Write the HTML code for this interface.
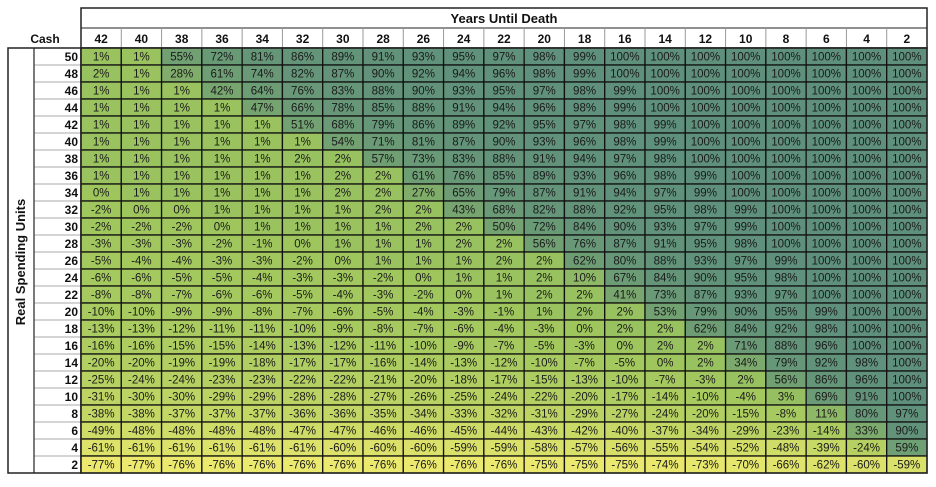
<!DOCTYPE html>
<html><head><meta charset="utf-8"><style>
body{margin:0;background:#fff;width:936px;height:482px;overflow:hidden;font-family:"Liberation Sans",sans-serif}
svg text{font-family:"Liberation Sans",sans-serif}
</style></head><body>
<svg id="chart" width="936" height="482" xmlns="http://www.w3.org/2000/svg"></svg>
<script>
const years=[42,40,38,36,34,32,30,28,26,24,22,20,18,16,14,12,10,8,6,4,2];
const cashUnits=[50,48,46,44,42,40,38,36,34,32,30,28,26,24,22,20,18,16,14,12,10,8,6,4,2];
const r50=[1,1,55,72,81,86,89,91,93,95,97,98,99,100,100,100,100,100,100,100,100];
const r48=[2,1,28,61,74,82,87,90,92,94,96,98,99,100,100,100,100,100,100,100,100];
const r46=[1,1,1,42,64,76,83,88,90,93,95,97,98,99,100,100,100,100,100,100,100];
const r44=[1,1,1,1,47,66,78,85,88,91,94,96,98,99,100,100,100,100,100,100,100];
const r42=[1,1,1,1,1,51,68,79,86,89,92,95,97,98,99,100,100,100,100,100,100];
const r40=[1,1,1,1,1,1,54,71,81,87,90,93,96,98,99,100,100,100,100,100,100];
const r38=[1,1,1,1,1,2,2,57,73,83,88,91,94,97,98,100,100,100,100,100,100];
const r36=[1,1,1,1,1,1,2,2,61,76,85,89,93,96,98,99,100,100,100,100,100];
const r34=[0,1,1,1,1,1,2,2,27,65,79,87,91,94,97,99,100,100,100,100,100];
const r32=[-2,0,0,1,1,1,1,2,2,43,68,82,88,92,95,98,99,100,100,100,100];
const r30=[-2,-2,-2,0,1,1,1,1,2,2,50,72,84,90,93,97,99,100,100,100,100];
const r28=[-3,-3,-3,-2,-1,0,1,1,1,2,2,56,76,87,91,95,98,100,100,100,100];
const r26=[-5,-4,-4,-3,-3,-2,0,1,1,1,2,2,62,80,88,93,97,99,100,100,100];
const r24=[-6,-6,-5,-5,-4,-3,-3,-2,0,1,1,2,10,67,84,90,95,98,100,100,100];
const r22=[-8,-8,-7,-6,-6,-5,-4,-3,-2,0,1,2,2,41,73,87,93,97,100,100,100];
const r20=[-10,-10,-9,-9,-8,-7,-6,-5,-4,-3,-1,1,2,2,53,79,90,95,99,100,100];
const r18=[-13,-13,-12,-11,-11,-10,-9,-8,-7,-6,-4,-3,0,2,2,62,84,92,98,100,100];
const r16=[-16,-16,-15,-15,-14,-13,-12,-11,-10,-9,-7,-5,-3,0,2,2,71,88,96,100,100];
const r14=[-20,-20,-19,-19,-18,-17,-17,-16,-14,-13,-12,-10,-7,-5,0,2,34,79,92,98,100];
const r12=[-25,-24,-24,-23,-23,-22,-22,-21,-20,-18,-17,-15,-13,-10,-7,-3,2,56,86,96,100];
const r10=[-31,-30,-30,-29,-29,-28,-28,-27,-26,-25,-24,-22,-20,-17,-14,-10,-4,3,69,91,100];
const r8=[-38,-38,-37,-37,-37,-36,-36,-35,-34,-33,-32,-31,-29,-27,-24,-20,-15,-8,11,80,97];
const r6=[-49,-48,-48,-48,-48,-47,-47,-46,-46,-45,-44,-43,-42,-40,-37,-34,-29,-23,-14,33,90];
const r4=[-61,-61,-61,-61,-61,-61,-60,-60,-60,-59,-59,-58,-57,-56,-55,-54,-52,-48,-39,-24,59];
const r2=[-77,-77,-76,-76,-76,-76,-76,-76,-76,-76,-76,-75,-75,-75,-74,-73,-70,-66,-62,-60,-59];
const values=[r50,r48,r46,r44,r42,r40,r38,r36,r34,r32,r30,r28,r26,r24,r22,r20,r18,r16,r14,r12,r10,r8,r6,r4,r2];

const NS="http://www.w3.org/2000/svg";
const svg=document.getElementById('chart');
const X0=81,X1=927,Y0=48,RH=17,CW=(X1-X0)/years.length;
const xPos=i=>X0+i*CW, yPos=j=>Y0+j*RH;
function mix(a,b,t){return a.map((v,i)=>Math.round(v+(b[i]-v)*t));}
const cMin=[236,233,110],cMid=[158,198,93],cMax=[94,144,124];
function color(v){let c;if(v<=0){c=mix(cMin,cMid,(v+77)/77);}else{c=mix(cMid,cMax,Math.pow(v/100,0.6));}return `rgb(${c[0]},${c[1]},${c[2]})`;}
function el(tag,attrs,txt){const e=document.createElementNS(NS,tag);for(const k in attrs)e.setAttribute(k,attrs[k]);if(txt!==undefined)e.textContent=txt;svg.appendChild(e);return e;}

let f=el('rect',{x:81,y:8,width:846,height:40,fill:'#fff',stroke:'#222','stroke-width':1.5});


let t=el('text',{x:504,y:23,'text-anchor':'middle','font-size':13,'font-weight':'bold',fill:'#111'},'Years Until Death');


el('line',{x1:81,y1:28,x2:927,y2:28,stroke:'#222','stroke-width':1});
t=el('text',{x:45,y:43,'text-anchor':'middle','font-size':12,'font-weight':'bold',fill:'#111'},'Cash');


f=el('rect',{x:8,y:48,width:73,height:425,fill:'#fff',stroke:'#222','stroke-width':1.5});


el('line',{x1:34,y1:48,x2:34,y2:473,stroke:'#222','stroke-width':1.2});
t=el('text',{x:0,y:0,'text-anchor':'middle','font-size':13,'font-weight':'bold',fill:'#111',transform:'translate(25,262) rotate(-90)'},'Real Spending Units');



years.forEach((yr,i)=>{
  if(i>0){el('line',{x1:xPos(i),y1:28,x2:xPos(i),y2:48,stroke:'#999','stroke-width':1});}
  const tx=el('text',{x:xPos(i)+CW/2,y:43,'text-anchor':'middle','font-size':12,'font-weight':'bold',fill:'#111'},String(yr));
  
  
});
cashUnits.forEach((c,j)=>{
  if(j>0){el('line',{x1:34,y1:yPos(j),x2:81,y2:yPos(j),stroke:'#555','stroke-width':0.6});}
  const tx=el('text',{x:78,y:yPos(j)+13,'text-anchor':'end','font-size':12,'font-weight':'bold',fill:'#111'},String(c));
  
  
});
values.forEach((row,j)=>{
  row.forEach((v,i)=>{
    const r=el('rect',{x:xPos(i),y:yPos(j),width:CW,height:RH,fill:color(v),stroke:'#111','stroke-width':1.3});
    
    
    const tx=el('text',{x:xPos(i)+CW/2,y:yPos(j)+12.5,'text-anchor':'middle','font-size':11.5,fill:'#1a1a1a'},v+'%');
    
    
  });
});
el('rect',{x:81,y:48,width:846,height:425,fill:'none',stroke:'#222','stroke-width':1.5});
</script>
</body></html>
